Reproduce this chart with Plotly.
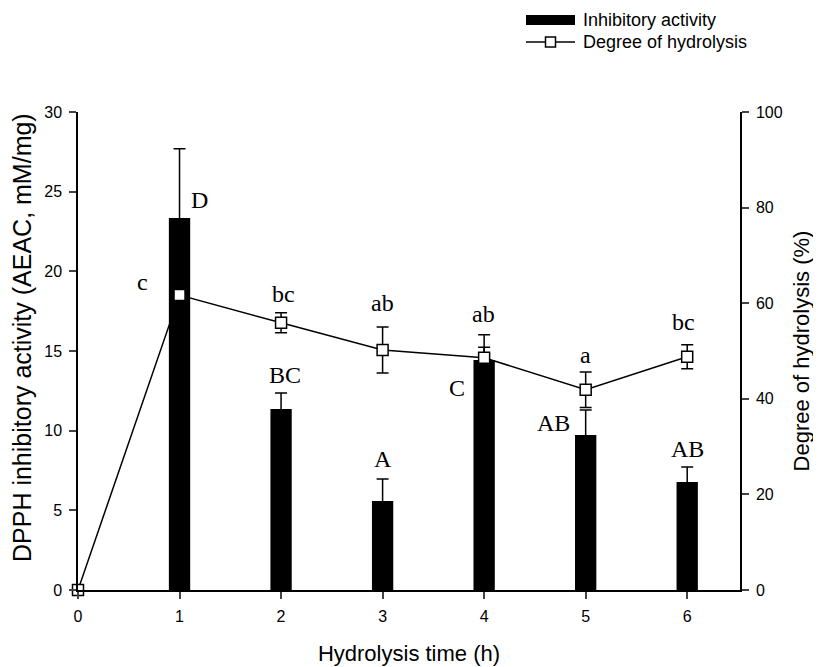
import plotly.graph_objects as go

# ---- data ----
time_h = [0, 1, 2, 3, 4, 5, 6]
bar_time = [1, 2, 3, 4, 5, 6]
inhibitory = [23.35, 11.36, 5.59, 14.44, 9.73, 6.78]
inhibitory_err = [4.35, 1.0, 1.38, 0.8, 1.57, 0.94]
hydrolysis = [0, 61.7, 55.9, 50.2, 48.6, 41.9, 48.8]
hydrolysis_err = [0, 0, 2.1, 4.8, 4.8, 3.7, 2.5]

bar_labels = ["D", "BC", "A", "C", "AB", "AB"]
bar_label_x = [1.20, 2.04, 3.0, 3.73, 4.68, 6.0]
bar_label_y = [24.5, 13.5, 8.2, 12.7, 10.5, 8.85]
line_labels = ["c", "bc", "ab", "ab", "a", "bc"]
line_label_x = [0.64, 2.02, 3.0, 3.99, 5.0, 5.96]
line_label_y = [19.3, 18.6, 18.0, 17.3, 14.75, 16.8]

W, H = 821, 667
# page body has an 8px offset; plot area on screen: x 78..740, y 112..590
OFF = 8
SX0, SX1, SY0, SY1 = 78, 740, 112, 590
L, T = SX0 - OFF, SY0 - OFF
R, B = W - (SX1 - OFF), H - (SY1 - OFF)

fig = go.Figure()
fig.add_trace(go.Bar(
    x=bar_time, y=inhibitory, width=0.21,
    marker=dict(color="black", line=dict(width=0)),
    error_y=dict(type="data", array=inhibitory_err, color="black", thickness=1.5, width=6),
    yaxis="y", name="Inhibitory activity", showlegend=False,
))
fig.add_trace(go.Scatter(
    x=time_h, y=hydrolysis, mode="lines+markers",
    line=dict(color="black", width=1.5),
    marker=dict(symbol="square", size=11, color="white", line=dict(color="black", width=1.5)),
    error_y=dict(type="data", array=hydrolysis_err, color="black", thickness=1.5, width=6),
    yaxis="y2", cliponaxis=False, name="Degree of hydrolysis", showlegend=False,
))

serif = dict(family="Liberation Serif, Times New Roman, serif", size=24, color="black")
for t, x, y in zip(bar_labels + line_labels, bar_label_x + line_label_x, bar_label_y + line_label_y):
    fig.add_annotation(x=x, y=y, xref="x", yref="y", text=t, showarrow=False, font=serif,
                       xanchor="center", yanchor="middle")

# ---- screen pixel -> paper ----
def px_x(p):
    return (p - SX0) / (SX1 - SX0)

def px_y(p):
    return (SY1 - p) / (SY1 - SY0)

def tfont(s):
    return dict(family="Liberation Sans, Arial, sans-serif", size=s, color="black")

# manual legend
fig.add_shape(type="rect", xref="paper", yref="paper",
              x0=px_x(526), x1=px_x(575), y0=px_y(25), y1=px_y(15),
              fillcolor="black", line=dict(width=0))
fig.add_shape(type="line", xref="paper", yref="paper",
              x0=px_x(526), x1=px_x(575), y0=px_y(42), y1=px_y(42),
              line=dict(color="black", width=1.5))
fig.add_shape(type="rect", xref="paper", yref="paper",
              x0=px_x(545.5), x1=px_x(555.5), y0=px_y(47), y1=px_y(37),
              fillcolor="white", line=dict(color="black", width=1.5))
fig.add_annotation(xref="paper", yref="paper", x=px_x(581), y=px_y(20), text="Inhibitory activity",
                   showarrow=False, xanchor="left", yanchor="middle", font=tfont(18))
fig.add_annotation(xref="paper", yref="paper", x=px_x(581), y=px_y(42), text="Degree of hydrolysis",
                   showarrow=False, xanchor="left", yanchor="middle", font=tfont(18))

# left axis title (placed as rotated text, as in the original)
fig.add_annotation(xref="paper", yref="paper", x=px_x(22), y=px_y(338),
                   text="DPPH inhibitory activity (AEAC, mM/mg)", textangle=-90,
                   showarrow=False, xanchor="center", yanchor="middle", font=tfont(25))

axis_font = tfont(16)
common = dict(ticks="outside", ticklen=7, tickwidth=1.5, showline=True, linecolor="black",
              linewidth=1.5, showgrid=False, zeroline=False, tickfont=axis_font,
              ticklabelstandoff=4)
fig.update_layout(
    width=W, height=H,
    margin=dict(l=L, r=R, t=T, b=B, pad=0, autoexpand=False),
    plot_bgcolor="white", paper_bgcolor="white",
    showlegend=False,
    xaxis=dict(range=[0, 6.52], tickmode="array", tickvals=time_h,
               title=dict(text="Hydrolysis time (h)", font=tfont(22), standoff=22), **common),
    yaxis=dict(range=[0, 30], tickvals=[0, 5, 10, 15, 20, 25, 30], **common),
    yaxis2=dict(range=[0, 100], tickvals=[0, 20, 40, 60, 80, 100], overlaying="y", side="right",
                title=dict(text="Degree of hydrolysis (%)", font=tfont(22), standoff=12), **common),
)

fig.write_html("out.html")
